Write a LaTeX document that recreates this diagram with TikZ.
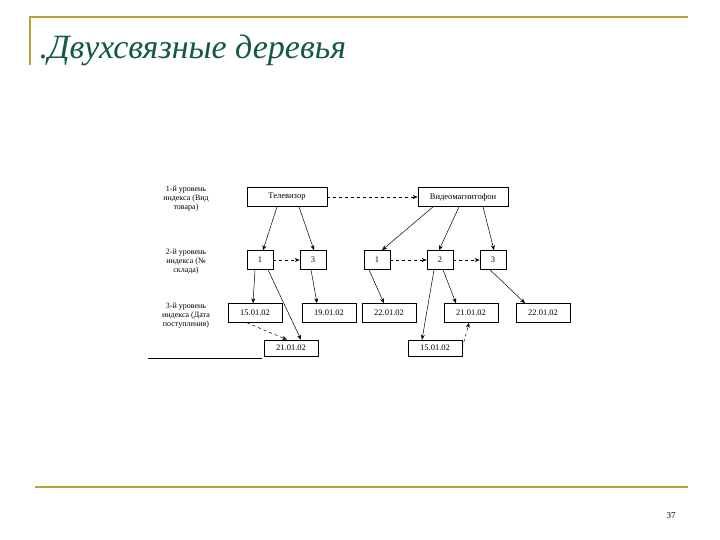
\documentclass[tikz,border=0pt]{standalone}
\usepackage{fontspec}
\setmainfont{Liberation Serif}
\usetikzlibrary{arrows.meta}
\begin{document}
\begin{tikzpicture}[x=1pt,y=-1pt,
  bx/.style={draw,line width=0.6pt,minimum height=19pt,inner sep=1pt,font=\fontsize{8.5}{9}\selectfont},
  lbl/.style={align=center,font=\fontsize{8}{9}\selectfont},
  ar/.style={-{Stealth[length=5pt,width=4pt]},line width=0.5pt},
  da/.style={ar,dashed}]
\useasboundingbox (0,0) rectangle (720,540);
\fill[white] (0,0) rectangle (720,540);
\draw[color={rgb,255:red,190;green,160;blue,60},line width=1.5pt] (30,65)--(30,17)--(688,17);
\draw[color={rgb,255:red,190;green,160;blue,60},line width=1.5pt] (35,487)--(688,487);
\node[anchor=west,text={rgb,255:red,20;green,90;blue,60},font=\fontsize{34}{36}\itshape] (title) at (36,50) {.Двухсвязные деревья};
\node (pg) at (671,516) {\fontsize{9}{10}\selectfont 37};
\node[lbl] (l1) at (186,199) {1-й уровень\\индекса (Вид\\товара)};
\node[lbl] (l2) at (186,262) {2-й уровень\\индекса (№\\склада)};
\node[lbl] (l3) at (186,316) {3-й уровень\\индекса (Дата\\поступления)};
\draw[line width=0.6pt] (148,358)--(262,358);
\node[bx,minimum width=80pt] (tv) at (287,197) {Телевизор};
\node[bx,minimum width=90pt] (vm) at (463,197) {Видеомагнитофон};
\node[bx,minimum width=26pt] (a1) at (260,260) {1};
\node[bx,minimum width=26pt] (a3) at (313,260) {3};
\node[bx,minimum width=26pt] (b1) at (377,260) {1};
\node[bx,minimum width=26pt] (b2) at (440,260) {2};
\node[bx,minimum width=26pt] (b3) at (493,260) {3};
\node[bx,minimum width=54pt] (c1) at (255,313) {15.01.02};
\node[bx,minimum width=54pt] (c2) at (329,313) {19.01.02};
\node[bx,minimum width=54pt] (c3) at (389,313) {22.01.02};
\node[bx,minimum width=54pt] (c4) at (471,313) {21.01.02};
\node[bx,minimum width=54pt] (c5) at (543,313) {22.01.02};
\node[bx,minimum width=54pt,minimum height=16pt] (d1) at (291,348) {21.01.02};
\node[bx,minimum width=54pt,minimum height=16pt] (d2) at (435,348) {15.01.02};
\draw[da] (tv.east) -- (vm.west);
\draw[ar] ([xshift=-10pt]tv.south) -- ([xshift=3pt]a1.north);
\draw[ar] ([xshift=12pt]tv.south) -- ([xshift=1pt]a3.north);
\draw[ar] ([xshift=-30pt]vm.south) -- ([xshift=5pt]b1.north);
\draw[ar] ([xshift=-4pt]vm.south) -- ([xshift=-1pt]b2.north);
\draw[ar] ([xshift=20pt]vm.south) -- ([xshift=1pt]b3.north);
\draw[da] (a1.east) -- (a3.west);
\draw[da] (b1.east) -- (b2.west);
\draw[da] (b2.east) -- (b3.west);
\draw[ar] ([xshift=-5pt]a1.south) -- ([xshift=-2pt]c1.north);
\draw[ar] ([xshift=8pt]a1.south) -- ([xshift=10pt]d1.north);
\draw[ar] ([xshift=-2pt]a3.south) -- ([xshift=-12pt]c2.north);
\draw[ar] ([xshift=-8pt]b1.south) -- ([xshift=-5pt]c3.north);
\draw[ar] ([xshift=-6pt]b2.south) -- ([xshift=-13pt]d2.north);
\draw[ar] ([xshift=3pt]b2.south) -- ([xshift=-15pt]c4.north);
\draw[ar] ([xshift=-3pt]b3.south) -- ([xshift=-18pt]c5.north);
\draw[da] ([xshift=-8pt]c1.south) -- ([xshift=-4pt]d1.north);
\draw[da] (d2.east) -- ([xshift=-2pt]c4.south);
\end{tikzpicture}
\end{document}
